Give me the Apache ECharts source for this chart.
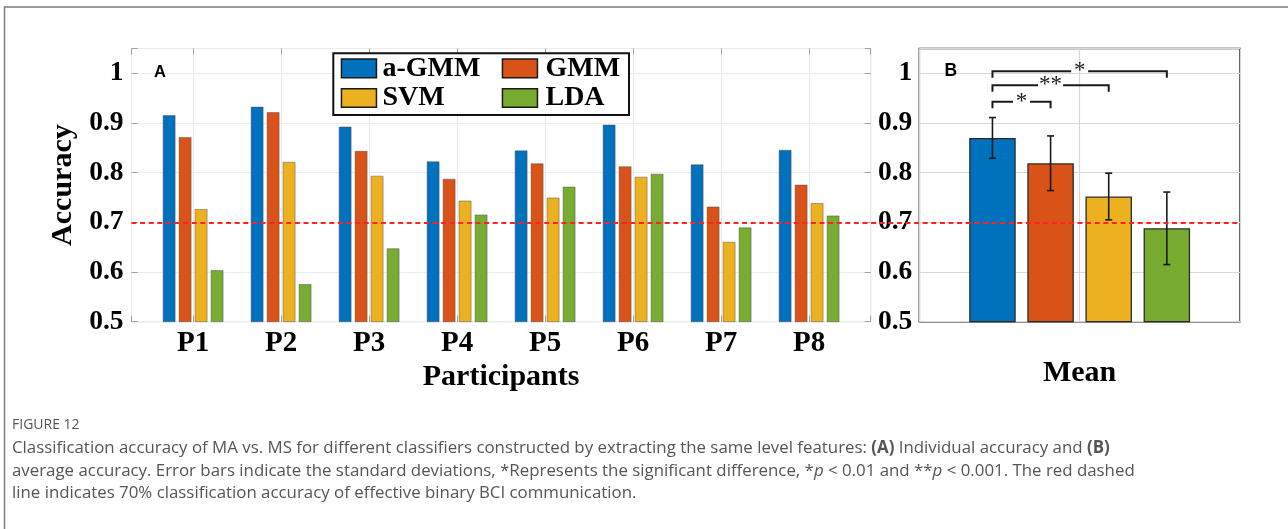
<!DOCTYPE html>
<html>
<head>
<meta charset="utf-8">
<script src="https://cdn.jsdelivr.net/npm/echarts@6/dist/echarts.min.js"></script>
<style>
  html, body { margin: 0; padding: 0; background: #fff; }
  #chart { width: 1288px; height: 529px; }
</style>
</head>
<body>
<div id="chart"></div>
<script>
// ---------------- data ----------------
const participants = ['P1', 'P2', 'P3', 'P4', 'P5', 'P6', 'P7', 'P8'];
const classifiers = ['a-GMM', 'GMM', 'SVM', 'LDA'];
const accAGMM = [0.916, 0.933, 0.893, 0.823, 0.845, 0.897, 0.817, 0.846];
const accGMM  = [0.872, 0.922, 0.844, 0.788, 0.819, 0.813, 0.732, 0.776];
const accSVM  = [0.727, 0.822, 0.794, 0.744, 0.750, 0.792, 0.661, 0.739];
const accLDA  = [0.604, 0.576, 0.648, 0.716, 0.772, 0.798, 0.690, 0.714];
const meanAcc = [0.870, 0.819, 0.752, 0.688];
const stdAcc  = [0.041, 0.055, 0.047, 0.073];
const threshold = 0.7;
const sigFrom   = [0, 0, 0];
const sigTo     = [1, 2, 3];
const sigLevel  = [0.943, 0.976, 1.004];
const sigLabels = ['*', '**', '*'];
const meanCategory = ['Mean'];

// ---------------- style ----------------
const colors = ['#0072BD', '#D95319', '#EDB120', '#77AC30'];
const serif = '"Liberation Serif", "Times New Roman", serif';
const sans = '"Liberation Sans", Arial, sans-serif';
const capSans = '"Open Sans", "Noto Sans", sans-serif';
const barWA = 13, gapA = 0.23;
const barWB = 46.5, gapB = 0.25;
const pitchB = barWB * (1 + gapB);

const perSeriesA = [accAGMM, accGMM, accSVM, accLDA];

function yLabel(v) {
  const r = Math.round(v * 10);
  if (Math.abs(v * 10 - r) > 1e-6) return '';
  return String(r / 10);
}

const yLabelStyle = { fontFamily: serif, fontWeight: 'bold', fontSize: 27.5, color: '#000', margin: 8, formatter: yLabel };

const gA = { left: 131.5, top: 48.5, width: 739.2, height: 273.2 };
const gB = { left: 919.3, top: 48.5, width: 320.7, height: 273.2 };

const series = [];
classifiers.forEach((name, k) => {
  series.push({
    name, type: 'bar', xAxisIndex: 0, yAxisIndex: 0,
    barWidth: barWA, barGap: (gapA * 100) + '%',
    data: perSeriesA[k].map((v, i) => [i + 1, v]),
    itemStyle: { color: colors[k], borderColor: 'rgba(70,70,70,0.45)', borderWidth: 1 },
    z: 2, silent: true
  });
});
classifiers.forEach((name, k) => {
  series.push({
    name, type: 'bar', xAxisIndex: 1, yAxisIndex: 1,
    barWidth: barWB, barGap: (gapB * 100) + '%',
    data: [meanAcc[k]],
    itemStyle: { color: colors[k], borderColor: '#2a2a2a', borderWidth: 1.3 },
    z: 2, silent: true
  });
});
// error bars
series.push({
  type: 'custom', xAxisIndex: 1, yAxisIndex: 1, z: 4, silent: true,
  encode: { x: 0, y: 1 },
  data: meanAcc.map((m, i) => [0, m, stdAcc[i], i]),
  renderItem(params, api) {
    const i = api.value(3), m = api.value(1), s = api.value(2);
    const base = api.coord([0, m]);
    const cx = base[0] + (i - 1.5) * pitchB;
    const yT = api.coord([0, m + s])[1];
    const yB = api.coord([0, m - s])[1];
    const st = { stroke: '#1a1a1a', lineWidth: 1.6 };
    return { type: 'group', children: [
      { type: 'line', shape: { x1: cx, y1: yT, x2: cx, y2: yB }, style: st },
      { type: 'line', shape: { x1: cx - 3.5, y1: yT, x2: cx + 3.5, y2: yT }, style: st },
      { type: 'line', shape: { x1: cx - 3.5, y1: yB, x2: cx + 3.5, y2: yB }, style: st }
    ]};
  }
});
// significance brackets
series.push({
  type: 'custom', xAxisIndex: 1, yAxisIndex: 1, z: 4, silent: true,
  encode: { x: 0, y: 1 },
  data: sigLevel.map((lv, k) => [0, lv, sigFrom[k], sigTo[k]]),
  renderItem(params, api) {
    const c = api.coord([0, api.value(1)]);
    const x1 = c[0] + (api.value(2) - 1.5) * pitchB;
    const x2 = c[0] + (api.value(3) - 1.5) * pitchB;
    const y = c[1], leg = 6.5;
    const lab = sigLabels[params.dataIndex];
    const half = (9 + 8 * lab.length) / 2;
    const xm = (x1 + x2) / 2;
    const st = { stroke: '#1a1a1a', lineWidth: 2, fill: null };
    return { type: 'group', children: [
      { type: 'polyline', shape: { points: [[x1, y + leg], [x1, y], [xm - half, y]] }, style: st },
      { type: 'polyline', shape: { points: [[xm + half, y], [x2, y], [x2, y + leg]] }, style: st },
      { type: 'text', x: xm, y: y, style: { text: lab, fontFamily: serif, fontSize: 23, lineHeight: 23, fill: '#1a1a1a', align: 'center', verticalAlign: 'middle' } }
    ]};
  }
});
// threshold dashed line across both panels
series.push({
  type: 'line', xAxisIndex: 4, yAxisIndex: 3, data: [], z: 6, silent: true,
  markLine: {
    silent: true, symbol: ['none', 'none'], animation: false,
    label: { show: false },
    lineStyle: { color: '#ff2222', width: 2, type: [5, 3.6] },
    data: [{ yAxis: threshold }]
  }
});

const capFs = 16.85;
const captionRich = {
  n: { fontFamily: capSans, fontSize: capFs, color: '#555', lineHeight: 22.5 },
  b: { fontFamily: capSans, fontSize: capFs, color: '#555', fontWeight: 'bold', lineHeight: 22.5 },
  i: { fontFamily: capSans, fontSize: capFs, color: '#555', fontStyle: 'italic', lineHeight: 22.5 }
};
const captionText =
  '{n|Classification accuracy of MA vs. MS for different classifiers constructed by extracting the same level features: }{b|(A)}{n| Individual accuracy and }{b|(B)}\n' +
  '{n|average accuracy. Error bars indicate the standard deviations, *Represents the significant difference, *}{i|p}{n| < 0.01 and **}{i|p}{n| < 0.001. The red dashed}\n' +
  '{n|line indicates 70% classification accuracy of effective binary BCI communication.}';

const option = {
  animation: false,
  backgroundColor: '#fff',
  grid: [
    Object.assign({ show: true, borderColor: '#c4c4c4', borderWidth: 1, backgroundColor: 'transparent' }, gA),
    Object.assign({ show: true, borderColor: '#262626', borderWidth: 1.5, backgroundColor: 'transparent' }, gB),
    { left: gA.left, top: gA.top, width: gB.left + gB.width - gA.left, height: gA.height }
  ],
  xAxis: [
    { // 0: panel A participants
      type: 'value', gridIndex: 0, min: 0.3, max: 8.7, splitNumber: 8, minInterval: 1, maxInterval: 1,
      axisLine: { show: false },
      axisTick: { show: true, inside: true, length: 6, lineStyle: { color: '#a0a0a0' } },
      splitLine: { show: true, lineStyle: { color: '#ebebeb', width: 1 } },
      axisLabel: { fontFamily: serif, fontWeight: 'bold', fontSize: 29, lineHeight: 29, color: '#000', margin: 7,
        formatter: v => (Number.isInteger(v) && v >= 1 && v <= participants.length) ? participants[v - 1] : '' },
      name: 'Participants', nameLocation: 'middle', nameGap: 36.5,
      nameTextStyle: { fontFamily: serif, fontWeight: 'bold', fontSize: 30, lineHeight: 30, color: '#000' }
    },
    { // 1: panel B category
      type: 'category', gridIndex: 1, data: meanCategory,
      axisLine: { show: false }, axisTick: { show: false }, axisLabel: { show: false }, splitLine: { show: false },
      name: 'Mean', nameLocation: 'middle', nameGap: 36.5,
      nameTextStyle: { fontFamily: serif, fontWeight: 'bold', fontSize: 30, lineHeight: 30, color: '#000' }
    },
    { // 2: panel B center grid line
      type: 'value', gridIndex: 1, min: 0, max: 2, interval: 1,
      axisLine: { show: false }, axisTick: { show: false }, axisLabel: { show: false },
      splitLine: { show: true, lineStyle: { color: '#d8d8d8', width: 1.2 } }
    },
    { // 3: panel A top ticks
      type: 'value', gridIndex: 0, position: 'top', min: 0.3, max: 8.7, splitNumber: 8, minInterval: 1, maxInterval: 1,
      axisLine: { show: false }, axisLabel: { show: false }, splitLine: { show: false },
      axisTick: { show: true, inside: true, length: 6, lineStyle: { color: '#a0a0a0' } }
    },
    { // 4: overlay for threshold line
      type: 'value', gridIndex: 2, min: 0, max: 1, show: false
    }
  ],
  yAxis: [
    { // 0: panel A
      type: 'value', gridIndex: 0, min: 0.5, max: 1.05, interval: 0.1,
      axisLine: { show: false },
      axisTick: { show: true, inside: true, length: 6, lineStyle: { color: '#a0a0a0' } },
      splitLine: { show: true, lineStyle: { color: '#ebebeb', width: 1 } },
      axisLabel: yLabelStyle,
      name: 'Accuracy', nameLocation: 'middle', nameGap: 42, nameRotate: 90,
      nameTextStyle: { fontFamily: serif, fontWeight: 'bold', fontSize: 30, lineHeight: 30, color: '#000' }
    },
    { // 1: panel B
      type: 'value', gridIndex: 1, min: 0.5, max: 1.05, interval: 0.1,
      axisLine: { show: false }, axisTick: { show: false },
      splitLine: { show: true, lineStyle: { color: '#d8d8d8', width: 1.2 } },
      axisLabel: Object.assign({}, yLabelStyle, { margin: 7 })
    },
    { // 2: panel A right ticks
      type: 'value', gridIndex: 0, position: 'right', min: 0.5, max: 1.05, interval: 0.1,
      axisLine: { show: false }, axisLabel: { show: false }, splitLine: { show: false },
      axisTick: { show: true, inside: true, length: 6, lineStyle: { color: '#a0a0a0' } }
    },
    { // 3: overlay
      type: 'value', gridIndex: 2, min: 0.5, max: 1.05, show: false
    }
  ],
  legend: [
    {
      data: [classifiers[0], classifiers[2]].map(n => ({ name: n, itemStyle: { borderColor: '#1a1a1a', borderWidth: 1.5 } })),
      orient: 'vertical', left: 340.7, top: 54.3, padding: 0, itemGap: 1.7,
      itemWidth: 35, itemHeight: 18.7, icon: 'rect', selectedMode: false, z: 5,
      textStyle: { fontFamily: serif, fontWeight: 'bold', fontSize: 28, lineHeight: 28, color: '#000', padding: [0, 0, 0, 1] }
    },
    {
      data: [classifiers[1], classifiers[3]].map(n => ({ name: n, itemStyle: { borderColor: '#1a1a1a', borderWidth: 1.5 } })),
      orient: 'vertical', left: 501.7, top: 54.3, padding: 0, itemGap: 1.7,
      itemWidth: 35, itemHeight: 18.7, icon: 'rect', selectedMode: false, z: 5,
      textStyle: { fontFamily: serif, fontWeight: 'bold', fontSize: 28, lineHeight: 28, color: '#000', padding: [0, 0, 0, 3] }
    }
  ],
  graphic: [
    { type: 'polyline', silent: true, z: 0,
      shape: { points: [[4.5, 529], [4.5, 7], [1288, 7]] },
      style: { stroke: '#7a7a7a', lineWidth: 1.5, fill: null } },
    { type: 'rect', silent: true, z: 3,
      shape: { x: 333.3, y: 53.3, width: 295.7, height: 61.7 },
      style: { fill: '#fff', stroke: '#111', lineWidth: 2 } },
    { type: 'text', silent: true, z: 5, x: 154, y: 72.5,
      style: { text: 'A', fontFamily: sans, fontWeight: 'bold', fontSize: 16.5, fill: '#000', verticalAlign: 'middle' } },
    { type: 'text', silent: true, z: 5, x: 944.5, y: 71.5,
      style: { text: 'B', fontFamily: sans, fontWeight: 'bold', fontSize: 17.5, fill: '#000', verticalAlign: 'middle' } },
    { type: 'text', silent: true, z: 5, x: 12, y: 416.5,
      style: { text: 'FIGURE 12', fontFamily: capSans, fontSize: 14, lineHeight: 17, fill: '#555', verticalAlign: 'top' } },
    { type: 'text', silent: true, z: 5, x: 12, y: 437,
      style: { text: captionText, rich: captionRich, verticalAlign: 'top', fontFamily: capSans, fontSize: capFs, lineHeight: 22.5, fill: '#555' } }
  ],
  series
};

const chart = echarts.init(document.getElementById('chart'), null, { renderer: 'canvas' });
chart.setOption(option);
</script>
</body>
</html>
